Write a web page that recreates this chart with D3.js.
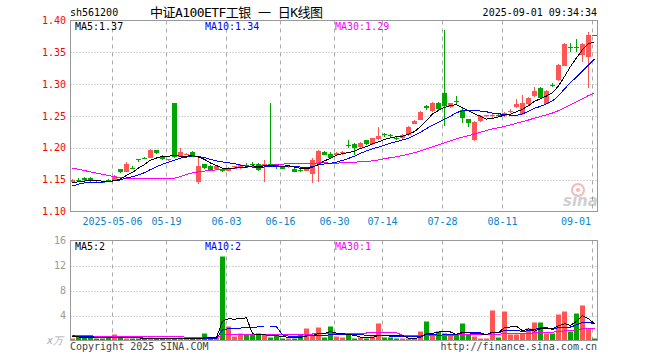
<!DOCTYPE html>
<html>
<head>
<meta charset="utf-8">
<script src="https://cdn.jsdelivr.net/npm/d3@7"></script>
<style>
  body { margin: 0; background: #fff; }
</style>
</head>
<body>
<div id="chart"></div>
<script>
// ---- data ----
const year = '2025';
const dates = [
  '04-22','04-23','04-24','04-25','04-28','04-29','04-30',
  '05-06','05-07','05-08','05-09','05-12','05-13','05-14','05-15','05-16',
  '05-19','05-20','05-21','05-22','05-23','05-26','05-27','05-28','05-29','05-30',
  '06-03','06-04','06-05','06-06','06-09','06-10','06-11','06-12','06-13',
  '06-16','06-17','06-18','06-19','06-20','06-23','06-24','06-25','06-26',
  '06-30','07-01','07-02','07-03','07-04','07-07','07-08','07-09',
  '07-14','07-15','07-16','07-17','07-18','07-21','07-22','07-23','07-24','07-25',
  '07-28','07-29','07-30','07-31','08-01','08-04','08-05','08-06','08-07','08-08',
  '08-11','08-12','08-13','08-14','08-15','08-18','08-19','08-20','08-21','08-22',
  '08-25','08-26','08-27','08-28','08-29','09-01'
];
const tickDates = ['05-06','05-19','06-03','06-16','06-30','07-14','07-28','08-11','09-01'];

const opens = [
  1.147,1.150,1.153,1.153,1.147,1.146,1.150,1.149,1.166,1.163,1.169,1.183,1.184,1.185,1.196,1.187,
  1.181,1.271,1.186,1.189,1.193,1.146,1.174,1.172,1.166,1.167,1.164,1.170,1.168,1.173,1.174,1.175,
  1.174,1.175,1.173,1.172,1.170,1.167,1.165,1.164,1.159,1.176,1.194,1.191,1.189,1.191,1.205,1.206,
  1.201,1.212,1.206,1.213,1.221,1.220,1.216,1.215,1.220,1.238,1.245,1.266,1.258,1.271,1.286,1.263,
  1.273,1.259,1.245,1.212,1.242,1.249,1.249,1.251,1.250,1.257,1.264,1.253,1.268,1.281,1.294,1.270,
  1.299,1.306,1.329,1.359,1.358,1.345,1.343,1.378
];
const highs = [
  1.151,1.152,1.154,1.154,1.148,1.148,1.151,1.157,1.167,1.177,1.171,1.183,1.185,1.198,1.197,1.188,
  1.183,1.271,1.199,1.192,1.195,1.184,1.175,1.173,1.172,1.167,1.170,1.172,1.174,1.176,1.177,1.176,
  1.181,1.271,1.175,1.172,1.173,1.168,1.166,1.169,1.184,1.196,1.195,1.193,1.193,1.195,1.213,1.207,
  1.209,1.213,1.216,1.233,1.224,1.221,1.217,1.221,1.235,1.243,1.258,1.268,1.272,1.272,1.385,1.271,
  1.281,1.262,1.245,1.242,1.251,1.252,1.253,1.253,1.256,1.261,1.276,1.283,1.280,1.296,1.295,1.291,
  1.302,1.331,1.365,1.365,1.371,1.364,1.382,1.378
];
const lows = [
  1.146,1.147,1.148,1.146,1.145,1.144,1.146,1.148,1.160,1.162,1.166,1.178,1.182,1.184,1.190,1.181,
  1.180,1.184,1.185,1.188,1.185,1.143,1.166,1.164,1.165,1.162,1.163,1.169,1.166,1.170,1.171,1.164,
  1.146,1.170,1.167,1.167,1.169,1.162,1.162,1.163,1.145,1.147,1.189,1.183,1.188,1.189,1.199,1.188,
  1.199,1.205,1.205,1.212,1.217,1.216,1.212,1.214,1.219,1.237,1.244,1.259,1.257,1.259,1.234,1.262,
  1.267,1.239,1.233,1.211,1.241,1.248,1.247,1.248,1.249,1.254,1.263,1.252,1.267,1.280,1.277,1.269,
  1.295,1.305,1.328,1.351,1.351,1.335,1.294,1.377
];
const closes = [
  1.150,1.149,1.150,1.148,1.146,1.145,1.147,1.156,1.161,1.175,1.168,1.181,1.183,1.197,1.191,1.182,
  1.182,1.186,1.194,1.191,1.186,1.171,1.167,1.166,1.171,1.164,1.169,1.171,1.173,1.172,1.173,1.165,
  1.175,1.174,1.172,1.168,1.172,1.163,1.164,1.168,1.181,1.195,1.190,1.184,1.192,1.193,1.204,1.199,
  1.208,1.206,1.215,1.218,1.220,1.219,1.215,1.220,1.232,1.242,1.257,1.263,1.271,1.261,1.266,1.270,
  1.272,1.246,1.238,1.241,1.250,1.251,1.251,1.250,1.255,1.258,1.269,1.271,1.278,1.289,1.279,1.290,
  1.298,1.330,1.363,1.358,1.357,1.363,1.377,1.377
];
// volume, 万
const volumes = [
  0.3,0.5,0.5,0.5,0.3,0.3,0.5,0.8,0.4,0.3,0.3,0.3,0.2,0.4,0.3,0.3,
  0.2,0.3,0.4,0.2,0.3,0.3,1.0,0.4,0.4,13.4,2.2,0.6,1.1,0.8,0.8,1.1,
  0.8,0.4,0.7,0.3,0.3,0.3,0.85,1.8,0.7,2.0,0.4,2.2,0.6,0.4,0.85,0.3,
  0.4,0.3,0.6,2.6,0.4,0.4,0.3,0.3,0.3,0.3,1.4,3.0,0.7,1.3,1.0,0.8,
  0.9,2.6,0.8,0.6,0.3,0.3,4.7,0.4,4.6,0.8,0.9,1.1,1.9,2.8,2.8,1.0,
  1.0,4.05,4.6,1.4,4.2,5.5,1.9,0.3
];
// sessions before the window, only feed the moving averages
const priorCloses = [
  1.200,1.210,1.210,1.200,1.210,1.200,1.210,1.210,1.206,
  1.190,1.180,1.180,1.190,1.180,1.180,1.180,1.184,
  1.120,1.090,1.110,1.120,1.130,1.140,1.140,1.145,
  1.140,1.145,1.145,1.145
];
const priorVolumes = [
  1.2,1.0,1.1,1.2,1.0,1.1,1.1,
  0.5,0.4,0.5,0.4,0.5,0.5,0.4,0.5,0.4,0.5,0.5,
  1.8,1.6,1.2,1.0,0.9,0.8,
  0.7,0.6,0.7,0.6,0.7
];
const maPeriods = [5, 10, 30];
const maColors = ['#000000', '#0000ff', '#ff00ff'];

// ---- layout ----
const W = 660, H = 360;
const L = 70.5, R = 597.5;
const mainTop = 20.5, mainBot = 211.5;
const volTop = 240.5, volBot = 340.5;
const RED = '#ff5555', GREEN = '#00a600';
const MONO = "'DejaVu Sans Mono', monospace";

const svg = d3.select('#chart').append('svg')
  .attr('width', W).attr('height', H)
  .style('display', 'block');
svg.append('rect').attr('width', W).attr('height', H).attr('fill', '#fff');

const x = d3.scaleBand().domain(dates).range([69.5, 597.5]);
const cx = d => x(d) + x.bandwidth() / 2;
const y = d3.scaleLinear().domain([1.10, 1.40]).range([mainBot, mainTop]);
const yv = d3.scaleLinear().domain([0, 16]).range([volBot, volTop]);

function movingAvg(prior, vals, n) {
  const all = prior.concat(vals);
  const off = prior.length;
  return vals.map((v, i) => d3.mean(all.slice(off + i - n + 1, off + i + 1)));
}
const priceMA = maPeriods.map(n => movingAvg(priorCloses, closes, n));
const volMA = maPeriods.map(n => movingAvg(priorVolumes, volumes, n));
const isUp = i => closes[i] >= opens[i];

// ---- grids ----
function grid(top, bot, levels, scale) {
  svg.append('g').selectAll('line').data(levels).enter().append('line')
    .attr('x1', L).attr('x2', R)
    .attr('y1', d => Math.round(scale(d)) + 0.5).attr('y2', d => Math.round(scale(d)) + 0.5)
    .attr('stroke', '#aaa').attr('stroke-dasharray', '1,2');
  svg.append('g').selectAll('line').data(tickDates).enter().append('line')
    .attr('x1', d => x(d) + 1).attr('x2', d => x(d) + 1)
    .attr('y1', top).attr('y2', bot)
    .attr('stroke', '#aaa').attr('stroke-dasharray', '4,4');
}
grid(mainTop, mainBot, [1.15, 1.20, 1.25, 1.30, 1.35], y);
grid(volTop, volBot, [4, 8, 12], yv);

// ---- candles ----
const candles = svg.append('g').selectAll('g').data(dates).enter().append('g')
  .attr('fill', (d, i) => isUp(i) ? RED : GREEN)
  .attr('stroke', (d, i) => isUp(i) ? RED : GREEN);
candles.append('line')
  .attr('x1', d => cx(d)).attr('x2', d => cx(d))
  .attr('y1', (d, i) => y(highs[i])).attr('y2', (d, i) => y(lows[i]))
  .attr('shape-rendering', 'crispEdges');
candles.append('rect')
  .attr('stroke', 'none')
  .attr('x', d => cx(d) - 2.5).attr('width', 5)
  .attr('y', (d, i) => Math.round(y(Math.max(opens[i], closes[i]))))
  .attr('height', (d, i) => Math.max(1, Math.round(Math.abs(y(opens[i]) - y(closes[i])))));

// ---- volume bars ----
svg.append('g').selectAll('rect').data(dates).enter().append('rect')
  .attr('fill', (d, i) => isUp(i) ? RED : GREEN)
  .attr('x', d => cx(d) - 2.5).attr('width', 5)
  .attr('y', (d, i) => Math.round(yv(volumes[i])) - 0.5)
  .attr('height', (d, i) => volBot - Math.round(yv(volumes[i])) + 0.5);

// ---- moving average lines (MA30 first so MA5 ends up on top) ----
function maLines(series, scale) {
  [2, 1, 0].forEach(k => {
    svg.append('path').datum(series[k])
      .attr('fill', 'none').attr('stroke', maColors[k]).attr('stroke-width', 1)
      .attr('shape-rendering', 'crispEdges')
      .attr('d', d3.line().x((d, i) => cx(dates[i])).y(d => scale(d)));
  });
}
maLines(priceMA, y);
maLines(volMA, yv);

// ---- frames ----
[[mainTop, mainBot], [volTop, volBot]].forEach(([t, b]) => {
  svg.append('rect').attr('x', L).attr('y', t).attr('width', R - L).attr('height', b - t)
    .attr('fill', 'none').attr('stroke', '#999');
});

// ---- axis labels ----
const txt = (xp, yp, s, col, anchor) => svg.append('text')
  .attr('x', xp).attr('y', yp).attr('fill', col)
  .attr('font-family', MONO).attr('font-size', 10)
  .attr('text-anchor', anchor || 'start').text(s);

[1.10, 1.15, 1.20, 1.25, 1.30, 1.35, 1.40].forEach(v => txt(66, y(v) + 3.5, v.toFixed(2), '#ff0000', 'end'));
[4, 8, 12, 16].forEach(v => txt(66, yv(v) + 3.5, String(v), '#999', 'end'));
txt(63, volBot + 3, 'x万', '#aaa', 'end').attr('font-style', 'italic');

tickDates.forEach((d, k) => {
  const label = k === 0 ? year + '-' + d : d;
  const w = label.length * 6.02;
  let px = x(d) + 1;
  if (px + w / 2 > 591) px = 591 - w / 2;
  txt(px, 225, label, '#0a84cc', 'middle');
});

// ---- header & legends ----
txt(70, 16, 'sh561200', '#000');
txt(597, 16, year + '-09-01 09:34:34', '#000', 'end');
svg.append('text').attr('x', 150).attr('y', 17)
  .attr('font-family', "'DejaVu Sans Mono', 'Noto Sans CJK SC', monospace")
  .attr('font-size', 13).attr('textLength', 173).attr('fill', '#000')
  .text('中证A100ETF工银 一 日K线图');

const legX = [75, 205, 335];
maPeriods.forEach((n, k) => {
  const last = priceMA[k][priceMA[k].length - 1];
  txt(legX[k], 30, 'MA' + n + ':' + last.toFixed(2), maColors[k]);
  const lastV = volMA[k][volMA[k].length - 1];
  txt(legX[k], 250, 'MA' + n + ':' + Math.floor(lastV), maColors[k]);
});

txt(70, 350, 'Copyright 2025 SINA.COM', '#444');
txt(597, 350, 'http://finance.sina.com.cn', '#444', 'end');

// faint sina watermark
const wm = svg.append('g').attr('opacity', 0.35);
wm.append('circle').attr('cx', 578).attr('cy', 190).attr('r', 6)
  .attr('fill', 'none').attr('stroke', '#e33').attr('stroke-width', 2);
wm.append('circle').attr('cx', 578).attr('cy', 190).attr('r', 2).attr('fill', '#e33');
wm.append('text').attr('x', 563).attr('y', 206)
  .attr('font-family', "'DejaVu Sans', sans-serif").attr('font-size', 15)
  .attr('font-weight', 'bold').attr('font-style', 'italic').attr('fill', '#777')
  .text('sina');
</script>
</body>
</html>
